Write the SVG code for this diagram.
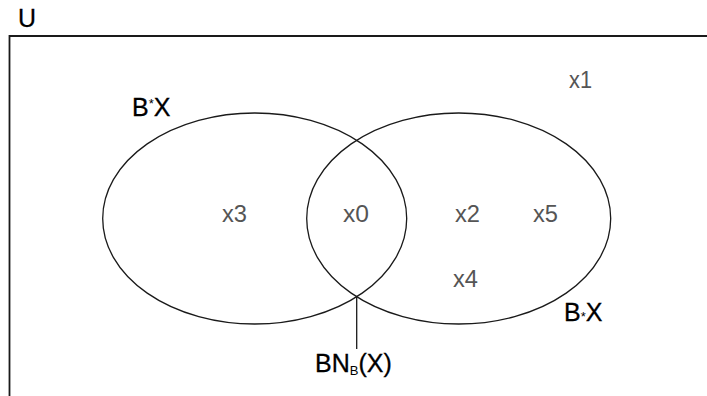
<svg xmlns="http://www.w3.org/2000/svg" width="707" height="396" viewBox="0 0 707 396">
<style>
.ln{fill:none;stroke:#1a1a1a;stroke-width:1.3}
.lbl{font-family:"Liberation Sans",Arial,sans-serif;font-size:25px;fill:#000;stroke:#000;stroke-width:0.3}
.el{font-family:"Liberation Sans",Arial,sans-serif;font-size:24px;fill:#555}
.sm{font-size:13px;stroke-width:0}
</style>
<rect width="707" height="396" fill="#fff"/>
<g id="universe">
<path class="ln" d="M9.5,420 V36 H720" style="stroke-width:1.8"/>
<text class="lbl" x="18" y="27" textLength="18" lengthAdjust="spacingAndGlyphs">U</text>
</g>
<g id="upper-approx">
<ellipse class="ln" cx="254.7" cy="218.5" rx="152" ry="105.5"/>
<text class="lbl" x="132" y="116">B<tspan class="sm" dy="-8">*</tspan><tspan dy="8">X</tspan></text>
</g>
<g id="lower-approx">
<ellipse class="ln" cx="458.7" cy="218.5" rx="152" ry="105.5"/>
<text class="lbl" x="564" y="321">B<tspan class="sm" dy="0">*</tspan>X</text>
</g>
<g id="elements">
<text class="el" x="569" y="88" textLength="23" lengthAdjust="spacingAndGlyphs">x1</text>
<text class="el" x="222" y="222" textLength="25" lengthAdjust="spacingAndGlyphs">x3</text>
<text class="el" x="343" y="222" textLength="26" lengthAdjust="spacingAndGlyphs">x0</text>
<text class="el" x="455" y="222" textLength="25" lengthAdjust="spacingAndGlyphs">x2</text>
<text class="el" x="533" y="222" textLength="25" lengthAdjust="spacingAndGlyphs">x5</text>
<text class="el" x="453" y="287" textLength="25" lengthAdjust="spacingAndGlyphs">x4</text>
</g>
<g id="connectors">
<line class="ln" x1="356.7" y1="297" x2="356.7" y2="349"/>
</g>
<g id="boundary">
<text class="lbl" x="315" y="372">BN<tspan class="sm" dy="3">B</tspan><tspan dy="-3">(X)</tspan></text>
</g>
</svg>
